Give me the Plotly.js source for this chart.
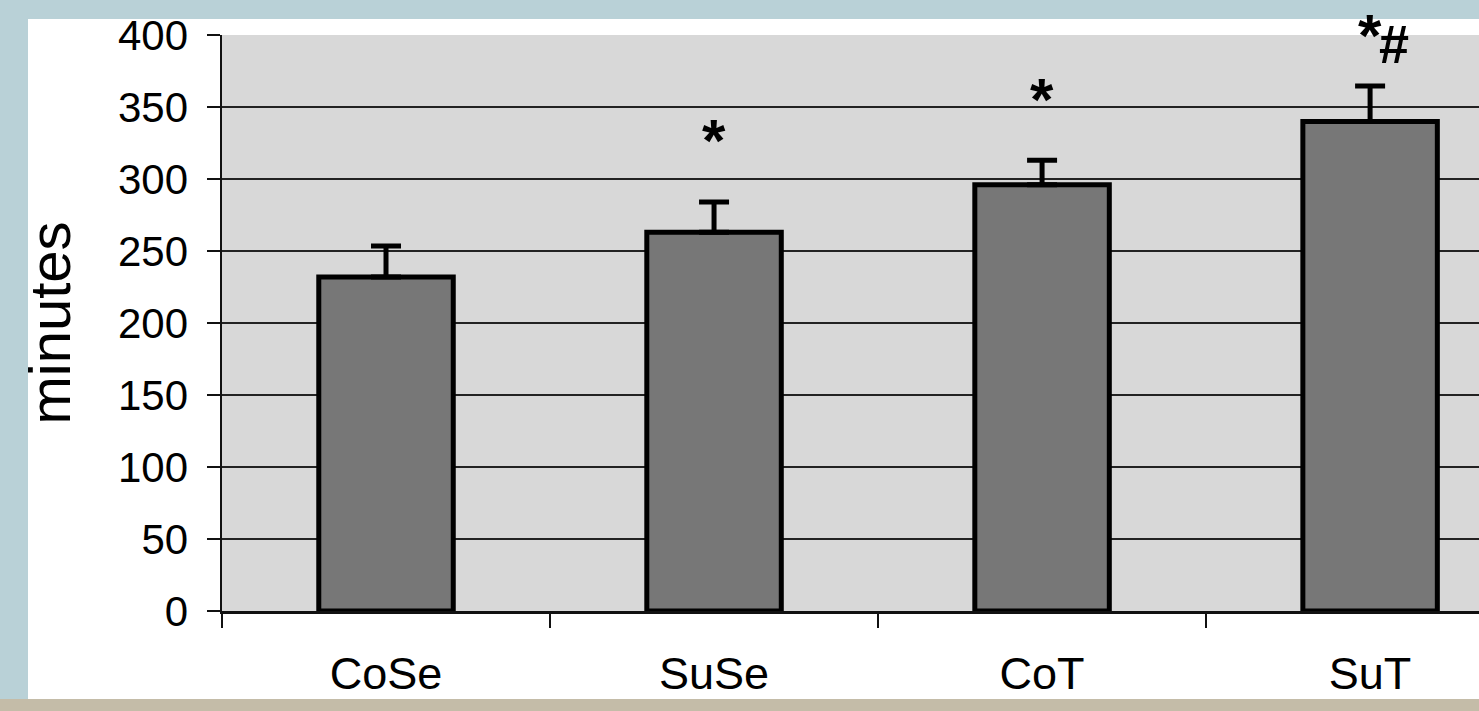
<!DOCTYPE html>
<html>
<head>
<meta charset="utf-8">
<script src="https://cdn.plot.ly/plotly-3.0.1.min.js"></script>
<style>
  html, body { margin: 0; padding: 0; width: 1479px; height: 711px; overflow: hidden; background: #b9d1d7; }
  #panel { position: absolute; left: 28px; top: 19px; width: 1451px; height: 680px; background: #ffffff; }
  #strip { position: absolute; left: 0; top: 699px; width: 1479px; height: 12px; background: #c4bca8; }
  #chart { position: absolute; left: 0; top: 0; width: 1479px; height: 711px; }
</style>
</head>
<body>
<div id="panel"></div>
<div id="strip"></div>
<div id="chart"></div>
<script>
// ---- data ----
const categories = ['CoSe', 'SuSe', 'CoT', 'SuT'];
const minutes = [232, 263, 296, 340];
const errPlus = [21.5, 21, 17, 24.5];
const yTickVals = [0, 50, 100, 150, 200, 250, 300, 350, 400];

// significance marks
const sigCats = ['SuSe', 'CoT', 'SuT', 'SuT'];
const sigText = ['*', '*', '*', '#'];
const sigY = [327, 355, 399.5, 394];

const FONT = 'Liberation Sans, Arial, Helvetica, sans-serif';

const trace = {
  type: 'bar',
  x: categories,
  y: minutes,
  width: 0.41,
  marker: { color: '#777777', line: { color: '#000000', width: 5 } },
  error_y: {
    type: 'data',
    symmetric: false,
    array: errPlus,
    arrayminus: minutes.map(() => 0),
    visible: true,
    color: '#000000',
    thickness: 5,
    width: 15
  },
  hoverinfo: 'skip'
};

const sigShift = [0, 0, 0, 24];
const annotations = sigCats.map((c, i) => ({
  x: c, y: sigY[i], xref: 'x', yref: 'y',
  text: sigText[i] === '#' ? '<b>#</b>' : sigText[i],
  showarrow: false,
  xanchor: 'center', yanchor: 'middle',
  xshift: sigShift[i],
  font: { family: FONT, size: sigText[i] === '#' ? 54 : 60, color: '#000', weight: 'bold' }
}));

const layout = {
  width: 1479,
  height: 711,
  margin: { l: 222, r: 0, t: 35, b: 100, pad: 0 },
  paper_bgcolor: 'rgba(0,0,0,0)',
  plot_bgcolor: '#d8d8d8',
  showlegend: false,
  xaxis: {
    type: 'category',
    range: [-0.5, 3.332],
    tickson: 'boundaries',
    ticks: 'outside',
    ticklen: 14,
    tickwidth: 2,
    tickcolor: '#111',
    showline: true,
    linecolor: '#111',
    linewidth: 3,
    showgrid: false,
    zeroline: false,
    tickfont: { family: FONT, size: 45, color: '#000' },
    ticklabelstandoff: 21,
    fixedrange: true
  },
  yaxis: {
    range: [0, 400],
    tickvals: yTickVals,
    ticktext: yTickVals.map(String),
    ticks: 'outside',
    ticklen: 13,
    tickwidth: 2,
    tickcolor: '#111',
    showline: true,
    linecolor: '#111',
    linewidth: 2.5,
    showgrid: true,
    gridcolor: '#222',
    gridwidth: 2.5,
    zeroline: false,
    tickfont: { family: FONT, size: 42, color: '#000' },
    ticklabelstandoff: 10,
    title: { text: 'minutes', font: { family: FONT, size: 58, color: '#000' }, standoff: 29 },
    automargin: false,
    fixedrange: true
  },
  annotations: annotations
};

Plotly.newPlot('chart', [trace], layout, { displayModeBar: false, staticPlot: true });
</script>
</body>
</html>
